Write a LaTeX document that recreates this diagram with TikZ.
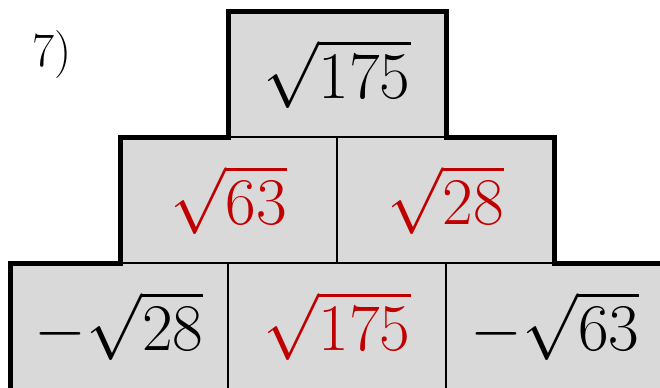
\RequirePackage{fix-cm}
\documentclass[tikz,border=0pt]{standalone}
\usepackage{amsmath}
\usepackage{xcolor}
\definecolor{brickgray}{RGB}{217,217,217}
\definecolor{answerred}{RGB}{192,0,0}

\begin{document}
\begin{tikzpicture}[x=0.75pt,y=0.75pt,yscale=-1,xscale=1,
  brick/.style={draw=black, line width=1.1pt, fill=brickgray, inner sep=0pt, outer sep=0pt,
    minimum width=163.5pt, minimum height=94.5pt, font=\fontsize{50}{60}\selectfont},
  midbrick/.style={brick, minimum width=162.75pt},
  answer/.style={text=answerred},
  wall/.style={line width=3.75pt, line join=miter}]
\useasboundingbox (0,0) rectangle (660,387);

% Exercise number
\node (num) at (52,55) {\fontsize{36}{40}\selectfont 7)};

% Top brick
\node [brick] (top) at (337,74) {$\sqrt{175}$};
% Middle row
\node [midbrick, answer] (midL) at (228.5,200) {$\sqrt{63}$};
\node [midbrick, answer] (midR) at (445.5,200) {$\sqrt{28}$};
% Bottom row
\node [brick] (botL) at (119,326) {$-\sqrt{28}$};
\node [brick, answer] (botM) at (337,326) {$\sqrt{175}$};
\node [brick] (botR) at (555,326) {$-\sqrt{63}$};

% Outer wall of the pyramid
\draw [wall] (botL.south west) -- (botL.north west) -- (midL.south west) -- (midL.north west)
  -- (top.south west) -- (top.north west) -- (top.north east) -- (top.south east)
  -- (midR.north east) -- (midR.south east) -- (botR.north east);

\end{tikzpicture}
\end{document}
